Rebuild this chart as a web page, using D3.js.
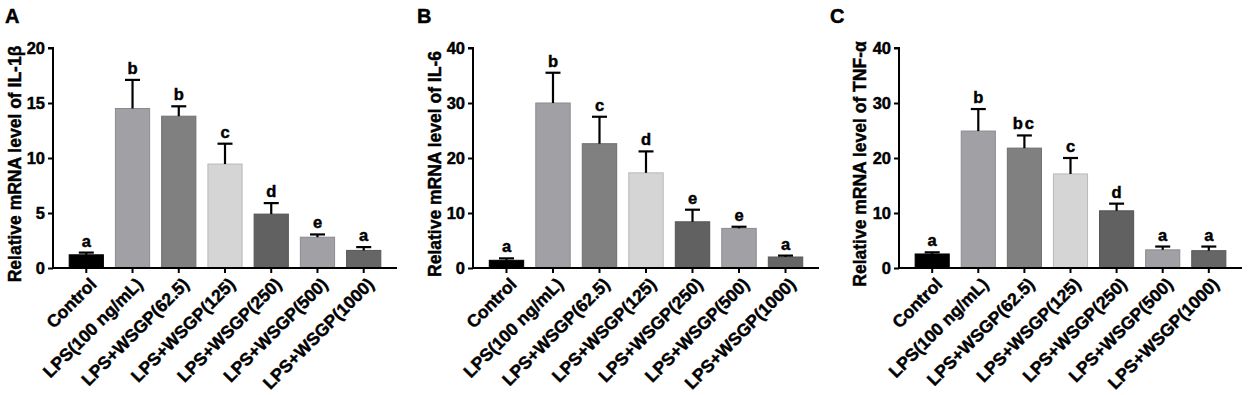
<!DOCTYPE html>
<html>
<head>
<meta charset="utf-8">
<script src="https://cdn.jsdelivr.net/npm/d3@7"></script>
<style>
  html, body { margin: 0; padding: 0; background: #fff; }
  svg { display: block; font-family: "Liberation Sans", Arial, sans-serif; }
  svg text { stroke: #000; stroke-width: 0.45px; paint-order: stroke; }
</style>
</head>
<body>
<div id="chart"></div>
<script>
// group names on the x axis
const categories = ['Control', 'LPS(100 ng/mL)', 'LPS+WSGP(62.5)', 'LPS+WSGP(125)',
  'LPS+WSGP(250)', 'LPS+WSGP(500)', 'LPS+WSGP(1000)']
const barColors = ['#000000', '#a0a0a5', '#808080', '#d5d5d5', '#616161', '#a0a0a5', '#666666']

// IL-1β
const il1bMean = [1.2, 14.5, 13.8, 9.45, 4.9, 2.8, 1.6]
const il1bSd = [0.2, 2.6, 0.9, 1.85, 1.0, 0.25, 0.3]
const il1bLetters = ['a', 'b', 'b', 'c', 'd', 'e', 'a']
const il1bTicks = [0, 5, 10, 15, 20]

// IL-6
const il6Mean = [1.4, 30.0, 22.6, 17.3, 8.4, 7.2, 2.0]
const il6Sd = [0.35, 5.5, 4.9, 3.9, 2.2, 0.3, 0.25]
const il6Letters = ['a', 'b', 'c', 'd', 'e', 'e', 'a']
const il6Ticks = [0, 10, 20, 30, 40]

// TNF-α
const tnfMean = [2.55, 24.9, 21.8, 17.1, 10.4, 3.3, 3.15]
const tnfSd = [0.3, 4.0, 2.3, 2.9, 1.3, 0.6, 0.75]
const tnfLetters = ['a', 'b', 'bc', 'c', 'd', 'a', 'a']
const tnfTicks = [0, 10, 20, 30, 40]

const width = 1248
const height = 395

const svg = d3.select('#chart').append('svg')
  .attr('width', width).attr('height', height)

function panel({ letter, letterX, axisX, axisEnd, titleX, title, mean, sd, labels, ticks }) {
  const top = 48, base = 268
  const y = d3.scaleLinear().domain([0, d3.max(ticks)]).range([base, top])
  const x = d3.scaleBand().domain(categories).range([axisX, axisEnd])
    .paddingInner(0.26).paddingOuter(0.35)

  const g = svg.append('g')

  g.append('text').attr('x', letterX).attr('y', 23)
    .style('font-size', '20px').style('font-weight', 'bold').text(letter)

  // bars
  categories.forEach((c, i) => {
    g.append('rect')
      .attr('x', x(c)).attr('y', y(mean[i]))
      .attr('width', x.bandwidth()).attr('height', base - y(mean[i]))
      .attr('fill', barColors[i])
      .attr('stroke', d3.color(barColors[i]).darker(0.4)).attr('stroke-width', 1)
  })

  // error bars (upper only) and group letters
  categories.forEach((c, i) => {
    const cx = x(c) + x.bandwidth() / 2
    const yt = y(mean[i] + sd[i])
    g.append('line').attr('x1', cx).attr('x2', cx).attr('y1', y(mean[i])).attr('y2', yt)
      .attr('stroke', '#000').attr('stroke-width', 2.2)
    g.append('line').attr('x1', cx - 7.5).attr('x2', cx + 7.5).attr('y1', yt).attr('y2', yt)
      .attr('stroke', '#000').attr('stroke-width', 2.2)
    g.append('text').attr('x', cx).attr('y', yt - 6)
      .attr('text-anchor', 'middle').style('font-size', '16.5px').style('font-weight', 'bold')
      .style('letter-spacing', labels[i].length > 1 ? '2px' : null)
      .text(labels[i])
  })

  // y axis
  const ya = g.append('g').attr('transform', `translate(${axisX},0)`)
    .call(d3.axisLeft(y).tickValues(ticks).tickSize(5).tickPadding(3))
  ya.select('.domain').attr('d', `M-5,${top}H0V${base}`)

  // x axis
  const xa = g.append('g').attr('transform', `translate(0,${base})`)
    .call(d3.axisBottom(x).tickSize(5).tickSizeOuter(0))
  xa.select('.domain').attr('d', `M${axisX},0H${axisEnd}`)
  xa.selectAll('text')
    .attr('text-anchor', 'end')
    .attr('transform', 'translate(7,13) rotate(-45)')
    .attr('dy', '0.35em').attr('y', 0).attr('x', 0)
    .style('font-size', '17.5px')

  g.selectAll('.domain, .tick line').attr('stroke', '#000').attr('stroke-width', 2)
  g.selectAll('.tick text').attr('fill', '#000').style('font-weight', 'bold')
  ya.selectAll('text').style('font-size', '16.5px')

  g.append('text')
    .attr('transform', `translate(${titleX},${(top + base) / 2 + 6}) rotate(-90)`)
    .attr('text-anchor', 'middle').attr('dy', '0.35em')
    .style('font-size', '17.5px').style('font-weight', 'bold')
    .text(title)
}

panel({ letter: 'A', letterX: 5, axisX: 53, axisEnd: 397, titleX: 15,
  title: 'Relative mRNA level of IL-1β', mean: il1bMean, sd: il1bSd, labels: il1bLetters, ticks: il1bTicks })
panel({ letter: 'B', letterX: 417, axisX: 473, axisEnd: 819, titleX: 435,
  title: 'Relative mRNA level of IL-6', mean: il6Mean, sd: il6Sd, labels: il6Letters, ticks: il6Ticks })
panel({ letter: 'C', letterX: 830, axisX: 899, axisEnd: 1242, titleX: 860,
  title: 'Relative mRNA level of TNF-α', mean: tnfMean, sd: tnfSd, labels: tnfLetters, ticks: tnfTicks })
</script>
</body>
</html>
